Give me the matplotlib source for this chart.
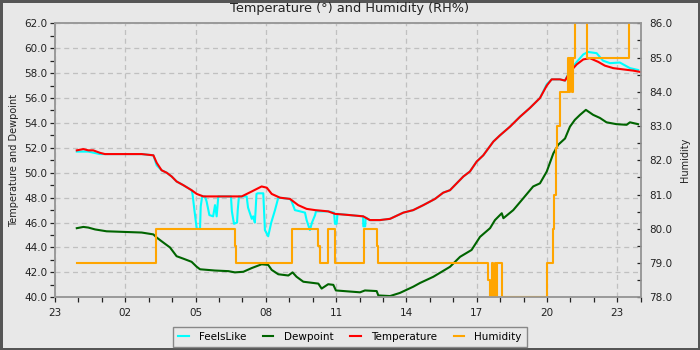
import numpy as np
import matplotlib
matplotlib.use("Agg")
import matplotlib.pyplot as plt
from matplotlib.ticker import MultipleLocator, FormatStrFormatter

# hours after midnight (axis runs from 23:00 the day before to 24:00)
temp_t = [-0.07, 0.21, 0.42, 0.63, 0.92, 1.13, 2.70, 3.20, 3.34, 3.55, 3.77, 3.98,
          4.19, 4.48, 4.83, 5.05, 5.33, 6.11, 6.97, 7.40, 7.61, 7.82, 8.04, 8.25,
          8.60, 9.03, 9.38, 9.74, 10.10, 10.66, 10.95, 11.59, 12.16, 12.44, 12.87,
          13.30, 13.87, 14.29, 14.72, 15.22, 15.57, 15.86, 16.43, 16.71, 17.00,
          17.28, 17.71, 17.99, 18.42, 18.85, 19.27, 19.70, 19.99, 20.20, 20.55,
          20.77, 20.98, 21.27, 21.55, 21.83, 22.19, 22.47, 22.83, 23.25, 23.68, 23.97]
temp = [51.8, 51.9, 51.8, 51.8, 51.6, 51.5, 51.5, 51.4, 50.8, 50.2, 50.0, 49.7,
        49.3, 49.0, 48.6, 48.3, 48.1, 48.1, 48.1, 48.5, 48.7, 48.9, 48.8, 48.3,
        48.0, 47.9, 47.4, 47.1, 47.0, 46.9, 46.7, 46.6, 46.5, 46.2, 46.2,
        46.3, 46.8, 47.0, 47.4, 47.9, 48.4, 48.6, 49.7, 50.1, 50.9,
        51.4, 52.5, 53.0, 53.7, 54.5, 55.2, 56.0, 57.0, 57.5, 57.5,
        57.4, 58.1, 58.7, 59.1, 59.2, 58.9, 58.6, 58.4, 58.3, 58.2, 58.1]

feels_t = [-0.07, 0.42, 0.92, 1.13, 2.70, 3.20, 3.34, 3.55, 3.77, 3.98, 4.19, 4.48,
           4.83, 4.87, 4.95, 5.05, 5.19, 5.22, 5.28, 5.40, 5.47, 5.59, 5.75, 5.83,
           5.90, 5.97, 6.51, 6.55, 6.64, 6.77, 6.80, 6.85, 7.18, 7.24, 7.40, 7.46,
           7.53, 7.56, 7.60, 7.65, 7.89, 7.96, 8.10, 8.23, 8.39, 8.53, 9.03, 9.10,
           9.24, 9.46, 9.67, 9.74, 9.88, 9.97, 10.10, 10.14, 10.66, 10.91, 10.95,
           11.02, 11.06, 11.59, 12.15, 12.16, 12.24, 12.26, 12.44, 12.87, 13.30,
           13.87, 14.29, 14.72, 15.22, 15.57, 15.86, 16.43, 16.71, 17.00, 17.28,
           17.71, 17.99, 18.42, 18.85, 19.27, 19.70, 19.99, 20.20, 20.55, 20.77,
           20.98, 21.27, 21.55, 21.75, 22.12, 22.39, 22.69, 23.11, 23.54, 23.89]
feels = [51.7, 51.7, 51.5, 51.5, 51.5, 51.4, 50.6, 50.2, 50.0, 49.7, 49.3, 49.0,
         48.6, 48.3, 47.0, 45.5, 45.5, 47.3, 48.1, 48.1, 47.7, 46.6, 46.5, 47.4,
         46.5, 48.1, 48.1, 46.9, 45.9, 46.0, 47.0, 48.1, 48.1, 47.2, 46.3, 46.5,
         46.0, 46.9, 48.3, 48.35, 48.35, 45.4, 44.9, 46.0, 47.0, 48.0, 47.9, 47.7,
         47.0, 46.9, 46.8, 46.2, 45.4, 46.0, 46.6, 46.9, 46.9, 46.8, 45.9,
         45.9, 46.7, 46.6, 46.5, 45.7, 45.7, 46.4, 46.2, 46.2, 46.3,
         46.8, 47.0, 47.4, 47.9, 48.4, 48.6, 49.7, 50.1, 50.9, 51.4,
         52.5, 53.0, 53.7, 54.5, 55.2, 56.0, 57.1, 57.5, 57.5, 57.4,
         58.2, 58.9, 59.5, 59.7, 59.6, 59.0, 58.8, 58.85, 58.4, 58.25]

dew_t = [-0.07, 0.21, 0.42, 0.71, 1.20, 2.70, 3.20, 3.34, 3.55, 3.91, 4.19, 4.48,
         4.83, 5.05, 5.19, 5.83, 6.40, 6.68, 7.04, 7.40, 7.54, 7.82, 8.10, 8.25,
         8.53, 8.96, 9.14, 9.31, 9.60, 10.24, 10.38, 10.66, 10.88, 10.99, 12.02,
         12.23, 12.73, 12.80, 13.30, 13.72, 14.29, 14.58, 15.15, 15.86, 16.29,
         16.78, 17.14, 17.57, 17.78, 18.07, 18.14, 18.56, 18.92, 19.41, 19.70,
         19.99, 20.27, 20.48, 20.77, 20.98, 21.19, 21.41, 21.66, 21.97, 22.26,
         22.54, 22.97, 23.40, 23.54, 23.89]
dew = [45.55, 45.65, 45.6, 45.45, 45.3, 45.2, 45.05, 44.8, 44.5, 44.0, 43.3, 43.1,
       42.85, 42.45, 42.25, 42.15, 42.1, 42.0, 42.05, 42.35, 42.45, 42.65, 42.6, 42.2,
       41.85, 41.75, 42.0, 41.65, 41.25, 41.1, 40.7, 41.05, 41.0, 40.55, 40.4,
       40.55, 40.5, 40.15, 40.1, 40.35, 40.85, 41.15, 41.65, 42.45, 43.25,
       43.8, 44.85, 45.55, 46.2, 46.75, 46.35, 47.0, 47.8, 48.9, 49.15,
       50.1, 51.55, 52.25, 52.75, 53.7, 54.25, 54.65, 55.05, 54.65, 54.4,
       54.05, 53.9, 53.85, 54.05, 53.9]

# humidity is reported in whole steps, drawn as a step line
hum_t = [-0.07, 3.30, 6.68, 6.72, 9.10, 10.24, 10.31, 10.64, 10.95, 12.20, 12.73,
         12.79, 17.48, 17.56, 17.65, 17.69, 17.78, 17.82, 17.86, 18.08, 20.01,
         20.27, 20.31, 20.38, 20.44, 20.57, 20.91, 20.96, 21.00, 21.05, 21.09,
         21.21, 21.69, 23.50, 23.97]
hum = [79.0, 80.0, 79.5, 79.0, 80.0, 79.5, 79.0, 80.0, 79.0, 80.0, 79.5,
       79.0, 78.5, 78.0, 79.0, 78.0, 79.0, 78.0, 79.0, 78.0, 79.0,
       80.0, 81.0, 82.35, 83.0, 84.0, 85.0, 84.0, 85.0, 84.0, 85.0,
       87.0, 85.0, 87.0, 87.0]

x_ticks = [-1, 2, 5, 8, 11, 14, 17, 20, 23]
x_labels = ["23", "02", "05", "08", "11", "14", "17", "20", "23"]

bg = "#e8e8e8"
fig = plt.figure(figsize=(7, 3.5), dpi=100, facecolor=bg)
fig.patch.set_edgecolor("#555555")
fig.patch.set_linewidth(3.6)

ax = fig.add_axes([55 / 700, 1 - 297.3 / 350, 585.7 / 700, 274 / 350])
ax.set_facecolor(bg)
ax2 = ax.twinx()

ax.plot(feels_t, feels, color="#00ffff", lw=1.5, label="FeelsLike", zorder=3)
ax.plot(dew_t, dew, color="#006400", lw=1.5, label="Dewpoint", zorder=3)
ax.plot(temp_t, temp, color="#ff0000", lw=1.5, label="Temperature", zorder=4)
ax2.plot(hum_t, hum, color="#ffa500", lw=1.5, drawstyle="steps-post", label="Humidity")

ax.set_xlim(-1, 24)
ax.set_ylim(40, 62)
ax2.set_ylim(78, 86)

ax.set_xticks(x_ticks)
ax.set_xticklabels(x_labels)
ax.xaxis.set_minor_locator(MultipleLocator(1))
ax.yaxis.set_major_locator(MultipleLocator(2))
ax.yaxis.set_minor_locator(MultipleLocator(1))
ax.yaxis.set_major_formatter(FormatStrFormatter("%.1f"))
ax2.yaxis.set_major_locator(MultipleLocator(1))
ax2.yaxis.set_minor_locator(MultipleLocator(0.5))
ax2.yaxis.set_major_formatter(FormatStrFormatter("%.1f"))

ax.grid(True, which="major", color="#c0c0c0", linestyle=(0, (4, 3)), linewidth=0.9)
ax.set_axisbelow(True)

for a in (ax, ax2):
    for s in a.spines.values():
        s.set_color("#999999")
        s.set_linewidth(1.2)
ax.tick_params(which="both", length=3.5, width=0.9, color="#222222", labelsize=7.5,
               labelcolor="#222222", pad=2)
ax.tick_params(axis="x", pad=4)
ax2.tick_params(which="both", direction="in", length=3, width=0.9, color="#222222",
                labelsize=7.5, labelcolor="#222222", pad=6)

ax.set_ylabel("Temperature and Dewpoint", fontsize=7, color="#222222", labelpad=4)
ax2.set_ylabel("Humidity", fontsize=7, color="#222222", labelpad=6)
fig.suptitle("Temperature (°) and Humidity (RH%)", fontsize=9.3, color="#222222",
             y=0.995, va="top")

handles = ax.get_lines() + ax2.get_lines()
leg = fig.legend(handles, [h.get_label() for h in handles], loc="lower center",
                 bbox_to_anchor=(0.5, -0.005), ncol=4, fontsize=7.5, frameon=True,
                 fancybox=False, edgecolor="#888888", facecolor=bg, framealpha=1,
                 handlelength=1.0, handletextpad=1.0, columnspacing=1.6,
                 borderpad=0.45)
leg.get_frame().set_linewidth(1.0)

fig.savefig("out.png", dpi=100, facecolor=bg, edgecolor="#555555")
